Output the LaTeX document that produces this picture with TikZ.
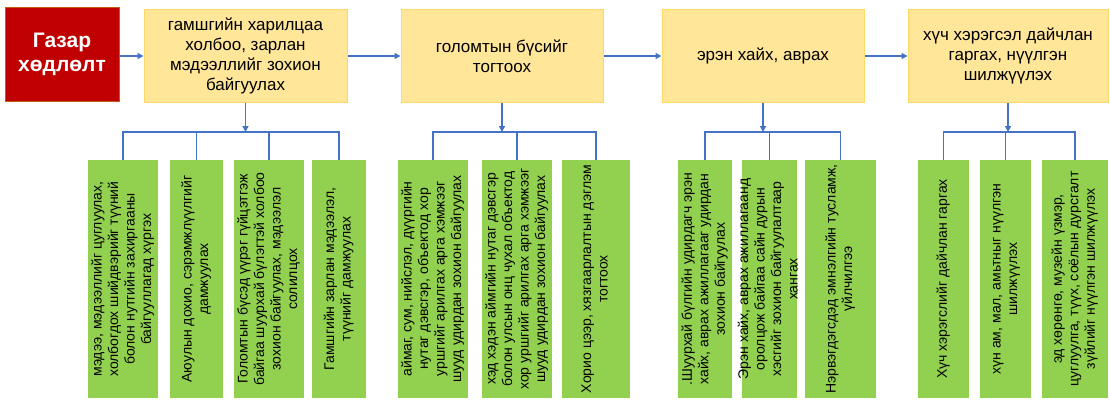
\documentclass[tikz,border=0pt]{standalone}
\usepackage{fontspec}
\usepackage{graphicx}
\setmainfont{Liberation Sans}
\usetikzlibrary{arrows.meta}
\definecolor{redfill}{HTML}{C00000}
\definecolor{redline}{HTML}{C55A11}
\definecolor{yfill}{HTML}{FFE699}
\definecolor{yline}{HTML}{FFD966}
\definecolor{gfill}{HTML}{92D050}
\definecolor{lblue}{HTML}{4472C4}
\newcommand\gtxt[1]{\makebox[0pt]{\rotatebox{90}{\makebox[0pt]{\begin{tabular}{@{}c@{}}#1\end{tabular}}}}}
\begin{document}
\begin{tikzpicture}[x=1pt,y=-1pt,
 redbox/.style={draw=redline, line width=1pt, fill=redfill, text=white, font=\fontsize{21}{24}\selectfont\bfseries, align=center, minimum width=114pt, minimum height=93pt, inner sep=0pt},
 ybox/.style={draw=yline, line width=1pt, fill=yfill, font=\fontsize{17}{19.7}\selectfont, align=center, minimum height=92pt, inner sep=0pt},
 gbox/.style={fill=gfill, minimum height=238pt, inner sep=0pt, font=\fontsize{14}{16.5}\selectfont},
 conn/.style={draw=lblue, line width=1.3pt},
 arr/.style={conn, -{Triangle[length=6pt,width=6pt]}}]
\useasboundingbox[fill=white] (0,0) rectangle (1110,404);

% top row
\node[redbox] (red) at (62,54.5) {Газар\\хөдлөлт};
\node[ybox, minimum width=203pt] (y1) at (245.5,56) {гамшгийн харилцаа\\холбоо, зарлан\\мэдээллийг зохион\\байгуулах};
\node[ybox, minimum width=202pt] (y2) at (502,56) {голомтын бүсийг\\тогтоох};
\node[ybox, minimum width=202pt] (y3) at (763,56) {эрэн хайх, аврах};
\node[ybox, minimum width=200pt] (y4) at (1008,56) {хүч хэрэгсэл дайчлан\\гаргах, нүүлгэн\\шилжүүлэх};

\draw[arr] (red.east |- y1.west) -- (y1.west);
\draw[arr] (y1.east) -- (y2.west);
\draw[arr] (y2.east) -- (y3.west);
\draw[arr] (y3.east) -- (y4.west);

% green boxes, group 1
\node[gbox, minimum width=70pt] (g11) at (123,279) {\gtxt{мэдээ, мэдээллийг цуглуулах,\\холбогдох шийдвэрийг түүний\\болон нутгийн захиргааны\\байгууллагад хүргэх}};
\node[gbox, minimum width=53pt] (g12) at (196.5,279) {\gtxt{Аюулын дохио, сэрэмжлүүлгийг\\дамжуулах}};
\node[gbox, minimum width=70pt] (g13) at (269,279) {\gtxt{Голомтын бүсэд үүрэг гүйцэтгэж\\байгаа шуурхай бүлэгтэй холбоо\\зохион байгуулах, мэдээлэл\\солилцох}};
\node[gbox, minimum width=54pt] (g14) at (339,279) {\gtxt{Гамшгийн зарлан мэдээлэл,\\түүнийг дамжуулах}};
% group 2
\node[gbox, minimum width=70pt] (g21) at (433,279) {\gtxt{аймаг, сум, нийслэл, дүүргийн\\нутаг дэвсгэр, объектод хор\\уршгийг арилгах арга хэмжээг\\шууд удирдан зохион байгуулах}};
\node[gbox, minimum width=70pt] (g22) at (517,279) {\gtxt{хэд хэдэн аймгийн нутаг дэвсгэр\\болон улсын онц чухал объектод\\хор уршгийг арилгах арга хэмжээг\\шууд удирдан зохион байгуулах}};
\node[gbox, minimum width=68pt] (g23) at (596,279) {\gtxt{Хорио цээр, хязгаарлалтын дэглэм\\тогтоох}};
% group 3
\node[gbox, minimum width=54pt] (g31) at (705,279) {\gtxt{.Шуурхай бүлгийн удирдагч эрэн\\хайх, аврах ажиллагааг удирдан\\зохион байгуулах}};
\node[gbox, minimum width=55pt] (g32) at (769.5,279) {\gtxt{Эрэн хайх, аврах ажиллагаанд\\оролцож байгаа сайн дурын\\хэсгийг зохион байгуулалтаар\\хангах}};
\node[gbox, minimum width=71pt] (g33) at (840.5,279) {\gtxt{Нэрвэгдэгсдэд эмнэлгийн тусламж,\\үйлчилгээ}};
% group 4
\node[gbox, minimum width=51pt] (g41) at (943.5,279) {\gtxt{Хүч хэрэгслийг дайчлан гаргах}};
\node[gbox, minimum width=51pt] (g42) at (1005.5,279) {\gtxt{хүн ам, мал, амьтныг нүүлгэн\\шилжүүлэх}};
\node[gbox, minimum width=66pt] (g43) at (1075,279) {\gtxt{эд хөрөнгө, музейн үзмэр,\\цуглуулга, түүх, соёлын дурсгалт\\зүйлийг нүүлгэн шилжүүлэх}};

% junctions
\coordinate (j1) at (245.5,132);
\coordinate (j2) at (502,132);
\coordinate (j3) at (763,132);
\coordinate (j4) at (1008,132);

\draw[arr] (y1.south) -- (j1);
\draw[arr] (y2.south) -- (j2);
\draw[arr] (y3.south) -- (j3);
\draw[arr] (y4.south) -- (j4);

\draw[conn] (g11.north) -- (g11.north |- j1) -- (g14.north |- j1) -- (g14.north);
\draw[conn] (g12.north) -- (g12.north |- j1);
\draw[conn] (g13.north) -- (g13.north |- j1);

\draw[conn] (g21.north) -- (g21.north |- j2) -- (g23.north |- j2) -- (g23.north);
\draw[conn] (g22.north) -- (g22.north |- j2);

\draw[conn] (g31.north) -- (g31.north |- j3) -- (g33.north |- j3) -- (g33.north);
\draw[conn] (g32.north) -- (g32.north |- j3);

\draw[conn] (g41.north) -- (g41.north |- j4) -- (g43.north |- j4) -- (g43.north);
\draw[conn] (g42.north) -- (g42.north |- j4);
\end{tikzpicture}
\end{document}
